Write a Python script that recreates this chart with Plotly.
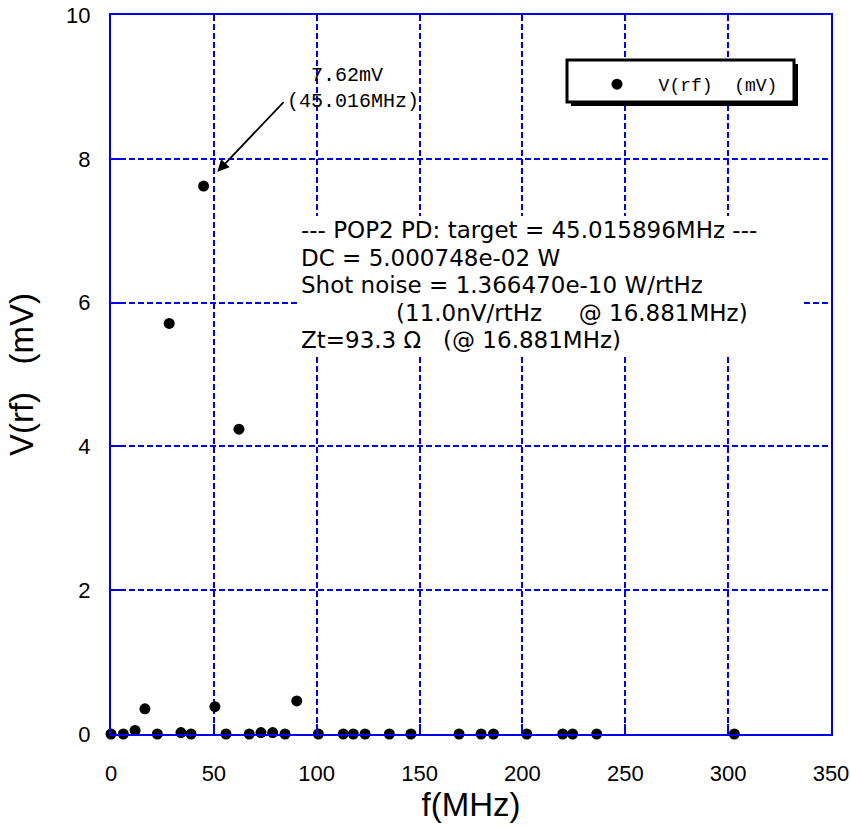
import plotly.graph_objects as go

# ---- data ----
freq_mhz = [0, 6, 11.7, 16.5, 22.5, 28.3, 34, 38.9, 45.016, 50.5, 55.9, 62.2, 67.2,
            72.9, 78.6, 84.6, 90.3, 100.8, 112.9, 117.8, 123.5, 135.3, 145.8, 169.2,
            179.9, 185.9, 202.1, 219.6, 224.4, 236.1, 303]
vrf_mv = [0, 0, 0.05, 0.35, 0, 5.71, 0.02, 0, 7.62, 0.38, 0, 4.24, 0,
          0.02, 0.02, 0, 0.46, 0, 0, 0, 0, 0, 0, 0,
          0, 0, 0, 0, 0, 0, 0]
x_ticks = [0, 50, 100, 150, 200, 250, 300, 350]
y_ticks = [0, 2, 4, 6, 8, 10]
series_name = "V(rf)  (mV)"
peak_label = ["\u00a0\u00a07.62mV", "(45.016MHz)"]
info_lines = [
    "--- POP2 PD: target = 45.015896MHz ---",
    "DC = 5.000748e-02 W",
    "Shot noise = 1.366470e-10 W/rtHz",
    "\u00a0" * 13 + "(11.0nV/rtHz" + "\u00a0" * 5 + "@ 16.881MHz)",
    "Zt=93.3 \u03a9" + "\u00a0" * 3 + "(@ 16.881MHz)",
]
info_line_y_px = [230, 257.5, 285, 312.5, 340]

W, H = 850, 829
L, R, T, B = 111, 19, 15, 95
PW, PH = W - L - R, H - T - B
BLUE = "#0000ee"
SANS = "Liberation Sans, Arial, sans-serif"
WIDE = "DejaVu Sans, Liberation Sans, sans-serif"
MONO = "Liberation Mono, DejaVu Sans Mono, monospace"


def px(xp):
    return (xp - L) / PW


def py(yp):
    return (H - B - yp) / PH


fig = go.Figure()
fig.add_trace(go.Scatter(
    x=freq_mhz, y=vrf_mv, mode="markers", name="\u00a0\u00a0" + series_name,
    marker=dict(color="black", size=11), cliponaxis=False,
))

axis_common = dict(
    showgrid=True, gridcolor=BLUE, griddash="6px,3px", gridwidth=1.5,
    showline=True, linecolor=BLUE, linewidth=2, mirror=True,
    ticks="inside", ticklen=10, tickcolor=BLUE, tickwidth=2,
    zeroline=False, automargin=False,
    tickfont=dict(family=SANS, size=22, color="black"),
)
fig.update_xaxes(range=[0, 350], tickvals=x_ticks, ticklabelstandoff=19,
                 title=dict(text="f(MHz)", font=dict(family=SANS, size=33, color="black"),
                            standoff=6),
                 **axis_common)
fig.update_yaxes(range=[0, 10], tickvals=y_ticks, ticklabelstandoff=14,
                 title=dict(text="V(rf)\u00a0\u00a0\u00a0(mV)",
                            font=dict(family=SANS, size=33, color="black"), standoff=23),
                 **axis_common)

# legend box with drop shadow
fig.add_shape(type="rect", xref="paper", yref="paper",
              x0=px(571), x1=px(798), y0=py(106), y1=py(64),
              fillcolor="black", line=dict(width=0), layer="above")
fig.add_shape(type="rect", xref="paper", yref="paper",
              x0=px(567), x1=px(794), y0=py(102), y1=py(60),
              fillcolor="white", line=dict(color="black", width=3), layer="above")

# white backdrop of the info text block
fig.add_shape(type="rect", xref="paper", yref="paper",
              x0=px(299), x1=px(801), y0=py(354), y1=py(216),
              fillcolor="white", line=dict(width=0), layer="above")

fig.update_layout(
    width=W, height=H,
    margin=dict(l=L, r=R, t=T, b=B, autoexpand=False),
    plot_bgcolor="white", paper_bgcolor="white",
    showlegend=True,
    legend=dict(x=px(597), y=py(66), xanchor="left", yanchor="top",
                bgcolor="rgba(0,0,0,0)", borderwidth=0,
                font=dict(family=MONO, size=18, color="black")),
)

# peak label and arrow
fig.add_annotation(x=px(285), y=py(62), xref="paper", yref="paper",
                   xanchor="left", yanchor="top", align="left", showarrow=False,
                   text="<br>".join(peak_label),
                   font=dict(family=MONO, size=20, color="black"))
fig.add_annotation(x=51.7, y=7.82, xref="x", yref="y", ax=84.6, ay=8.81,
                   axref="x", ayref="y", text="", showarrow=True,
                   arrowhead=2, arrowsize=1.3, arrowwidth=1.8, arrowcolor="black")

# info text block, one line per annotation
for line, ypix in zip(info_lines, info_line_y_px):
    fig.add_annotation(x=px(300), y=py(ypix), xref="paper", yref="paper",
                       xanchor="left", yanchor="middle", align="left", showarrow=False,
                       text=line, borderpad=0,
                       font=dict(family=WIDE, size=23, color="black"))

fig.write_html("out.html")
